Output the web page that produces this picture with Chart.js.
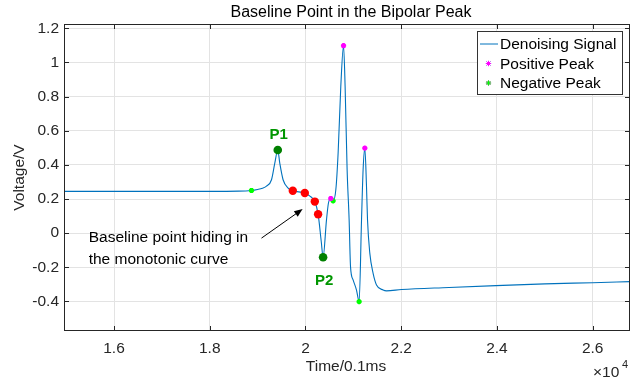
<!DOCTYPE html>
<html>
<head>
<meta charset="utf-8">
<title>Baseline Point in the Bipolar Peak</title>
<script src="https://cdn.jsdelivr.net/npm/chart.js@4.4.1/dist/chart.umd.min.js"></script>
<style>
  html, body { margin: 0; padding: 0; background: #fff; }
  #wrap { width: 637px; height: 384px; }
</style>
</head>
<body>
<div id="wrap"><canvas id="bipolarChart" width="637" height="384"></canvas></div>
<script>
// signal: time in 0.1ms samples, voltage in V
const timeVals = [14955, 16000, 17000, 18000, 18600, 18872, 19000, 19100, 19185, 19290,
                  19359, 19421, 19463, 19532, 19637, 19735, 19986, 20100, 20195, 20264,
                  20330, 20368, 20439, 20481, 20529, 20577, 20634, 20682, 20738, 20795,
                  20828, 20870, 20912, 20941, 20995, 21066, 21121, 21171, 21204, 21240,
                  21275, 21296, 21344, 21413, 21484, 21622, 21693, 22007, 23000, 23978,
                  25000, 25999, 26780];
const voltVals = [0.245, 0.245, 0.245, 0.245, 0.246, 0.250, 0.256, 0.263, 0.275, 0.313,
                  0.410, 0.487, 0.410, 0.313, 0.264, 0.248, 0.235, 0.215, 0.185, 0.111,
                  -0.050, -0.141, 0.078, 0.178, 0.203, 0.189, 0.254, 0.470, 0.860, 1.098,
                  0.860, 0.371, 0.078, -0.196, -0.274, -0.333, -0.401, 0.078, 0.371, 0.498,
                  0.273, 0.078, -0.117, -0.235, -0.303, -0.333, -0.338, -0.330, -0.318, -0.307,
                  -0.297, -0.290, -0.284];

const posPeakT = [20529, 20795, 21240];
const posPeakV = [0.203, 1.098, 0.498];
const negPeakT = [18872, 20577, 21121];
const negPeakV = [0.250, 0.189, -0.401];
const baseT = [19735, 19986, 20195, 20264];
const baseV = [0.248, 0.235, 0.185, 0.111];
const keyT = [19421, 20368];
const keyV = [0.487, -0.141];
const keyNames = ['P1', 'P2'];

const xTicks = [16000, 18000, 20000, 22000, 24000, 26000];
const yTicks = [-0.4, -0.2, 0, 0.2, 0.4, 0.6, 0.8, 1, 1.2];
const xRange = [14955, 26780];
const yRange = [-0.573, 1.225];

const legendNames = ['Denoising Signal', 'Positive Peak', 'Negative Peak'];
const noteLines = ['Baseline point hiding in', 'the monotonic curve'];

// annotation anchors in data units
const noteAt = [15471, -0.029];
const arrowFrom = [19081, -0.029];
const arrowTo = [19940, 0.141];

const FONT = '"Liberation Sans", Arial, Helvetica, sans-serif';
const AX = '#262626';
const BLUE = '#0072bd';

const pts = (xs, ys) => xs.map((t, i) => ({ x: t, y: ys[i] }));

// MATLAB-like frame, legend and texts
const matlabFrame = {
    id: 'matlabFrame',
    afterDraw(chart) {
        const { ctx, chartArea: a, scales: { x, y } } = chart;
        ctx.save();

        // box + inward ticks
        ctx.strokeStyle = AX; ctx.lineWidth = 1;
        ctx.strokeRect(a.left + 0.5, a.top + 0.5, a.right - a.left - 1, a.bottom - a.top - 1);
        ctx.beginPath();
        xTicks.forEach(v => {
            const px = Math.round(x.getPixelForValue(v)) + 0.5;
            ctx.moveTo(px, a.top); ctx.lineTo(px, a.top + 5);
            ctx.moveTo(px, a.bottom); ctx.lineTo(px, a.bottom - 5);
        });
        yTicks.forEach(v => {
            const py = Math.round(y.getPixelForValue(v)) + 0.5;
            ctx.moveTo(a.left, py); ctx.lineTo(a.left + 5, py);
            ctx.moveTo(a.right, py); ctx.lineTo(a.right - 5, py);
        });
        ctx.stroke();

        // title + axis labels
        ctx.fillStyle = '#000';
        ctx.textAlign = 'center'; ctx.textBaseline = 'middle';
        ctx.font = '16px ' + FONT;
        ctx.fillText('Baseline Point in the Bipolar Peak', 351, 13);
        ctx.fillStyle = AX;
        ctx.font = '15.5px ' + FONT;
        ctx.fillText('Time/0.1ms', 346, 367);
        ctx.save();
        ctx.translate(20, (a.top + a.bottom) / 2);
        ctx.rotate(-Math.PI / 2);
        ctx.fillText('Voltage/V', 0, 0);
        ctx.restore();
        ctx.textAlign = 'left';
        ctx.fillText('\u00d710', 593, 373);
        ctx.font = '11px ' + FONT;
        ctx.fillText('4', 622, 365);

        // P1 / P2 labels
        ctx.fillStyle = '#009600';
        ctx.textAlign = 'center';
        ctx.font = 'bold 15px ' + FONT;
        keyNames.forEach((n, i) => {
            const px = x.getPixelForValue(keyT[i]), py = y.getPixelForValue(keyV[i]);
            ctx.fillText(n, px + 1, i === 0 ? py - 15 : py + 24);
        });

        // note text + arrow
        ctx.fillStyle = '#000';
        ctx.textAlign = 'left';
        ctx.font = '15.5px ' + FONT;
        const nx = x.getPixelForValue(noteAt[0]), ny = y.getPixelForValue(noteAt[1]);
        noteLines.forEach((s, i) => ctx.fillText(s, nx, ny + i * 22));
        const x0 = x.getPixelForValue(arrowFrom[0]), y0 = y.getPixelForValue(arrowFrom[1]);
        const x1 = x.getPixelForValue(arrowTo[0]), y1 = y.getPixelForValue(arrowTo[1]);
        const ang = Math.atan2(y1 - y0, x1 - x0);
        ctx.strokeStyle = '#000'; ctx.lineWidth = 1;
        ctx.beginPath(); ctx.moveTo(x0, y0); ctx.lineTo(x1 - 6 * Math.cos(ang), y1 - 6 * Math.sin(ang)); ctx.stroke();
        ctx.beginPath();
        ctx.moveTo(x1, y1);
        ctx.lineTo(x1 - 9 * Math.cos(ang - 0.38), y1 - 9 * Math.sin(ang - 0.38));
        ctx.lineTo(x1 - 9 * Math.cos(ang + 0.38), y1 - 9 * Math.sin(ang + 0.38));
        ctx.closePath(); ctx.fill();

        // legend box
        const lw = 145, lh = 63;
        const lx = a.right - 8 - lw, ly = a.top + 7;
        ctx.fillStyle = '#fff';
        ctx.fillRect(lx, ly, lw, lh);
        ctx.strokeStyle = '#333'; ctx.lineWidth = 1;
        ctx.strokeRect(lx + 0.5, ly + 0.5, lw, lh);
        ctx.font = '15.5px ' + FONT;
        ctx.textBaseline = 'middle';
        legendNames.forEach((n, i) => {
            const cy = ly + 13 + i * 19.5;
            if (i === 0) {
                ctx.strokeStyle = BLUE;
                ctx.beginPath(); ctx.moveTo(lx + 3, cy); ctx.lineTo(lx + 21, cy); ctx.stroke();
            } else {
                const c = i === 1 ? '#ff00ff' : '#00ff00';
                Chart.helpers.drawPoint(ctx, { pointStyle: 'star', radius: 2.6, borderWidth: 1.8 },
                    lx + 11.5, cy);
                ctx.fillStyle = c; ctx.strokeStyle = c;
                Chart.helpers.drawPoint(ctx, { pointStyle: 'star', radius: 2.6, borderWidth: 1.8 },
                    lx + 11.5, cy);
            }
            ctx.fillStyle = '#000';
            ctx.fillText(n, lx + 23, cy + 1);
        });
        ctx.restore();
    }
};

new Chart(document.getElementById('bipolarChart'), {
    type: 'scatter',
    data: {
        datasets: [
            { label: 'Denoising Signal', data: pts(timeVals, voltVals), showLine: true,
              borderColor: BLUE, borderWidth: 1.1, pointRadius: 0, fill: false,
              cubicInterpolationMode: 'monotone', order: 10 },
            { label: 'Baseline', data: pts(baseT, baseV), pointStyle: 'circle', pointRadius: 4.2,
              backgroundColor: '#ff0000', borderColor: '#ff0000', borderWidth: 0, order: 3 },
            { label: 'Key', data: pts(keyT, keyV), pointStyle: 'circle', pointRadius: 4.3,
              backgroundColor: '#008000', borderColor: '#008000', borderWidth: 0, order: 3 },
            { label: 'Positive Peak', data: pts(posPeakT, posPeakV), pointStyle: 'star', pointRadius: 2.6,
              borderColor: '#ff00ff', backgroundColor: '#ff00ff', borderWidth: 1.8, order: 1 },
            { label: 'Negative Peak', data: pts(negPeakT, negPeakV), pointStyle: 'star', pointRadius: 2.6,
              borderColor: '#00ff00', backgroundColor: '#00ff00', borderWidth: 1.8, order: 1 }
        ]
    },
    options: {
        responsive: false,
        animation: false,
        devicePixelRatio: 1,
        layout: { padding: { top: 24, right: 7, left: 0, bottom: 0 } },
        plugins: { legend: { display: false }, tooltip: { enabled: false }, title: { display: false } },
        scales: {
            x: {
                type: 'linear', min: xRange[0], max: xRange[1],
                afterBuildTicks: s => { s.ticks = xTicks.map(v => ({ value: v })); },
                afterFit: s => { s.height = 53; },
                grid: { color: '#e3e3e3', drawTicks: false },
                border: { display: false },
                ticks: { color: AX, padding: 8, font: { family: FONT, size: 15.5 },
                         callback: v => String(v / 10000) }
            },
            y: {
                type: 'linear', min: yRange[0], max: yRange[1],
                afterBuildTicks: s => { s.ticks = yTicks.map(v => ({ value: v })); },
                afterFit: s => { s.width = 64; },
                grid: { color: '#e3e3e3', drawTicks: false },
                border: { display: false },
                ticks: { color: AX, padding: 5, font: { family: FONT, size: 15.5 },
                         callback: v => String(+(+v).toFixed(1)) }
            }
        }
    },
    plugins: [matlabFrame]
});
</script>
</body>
</html>
